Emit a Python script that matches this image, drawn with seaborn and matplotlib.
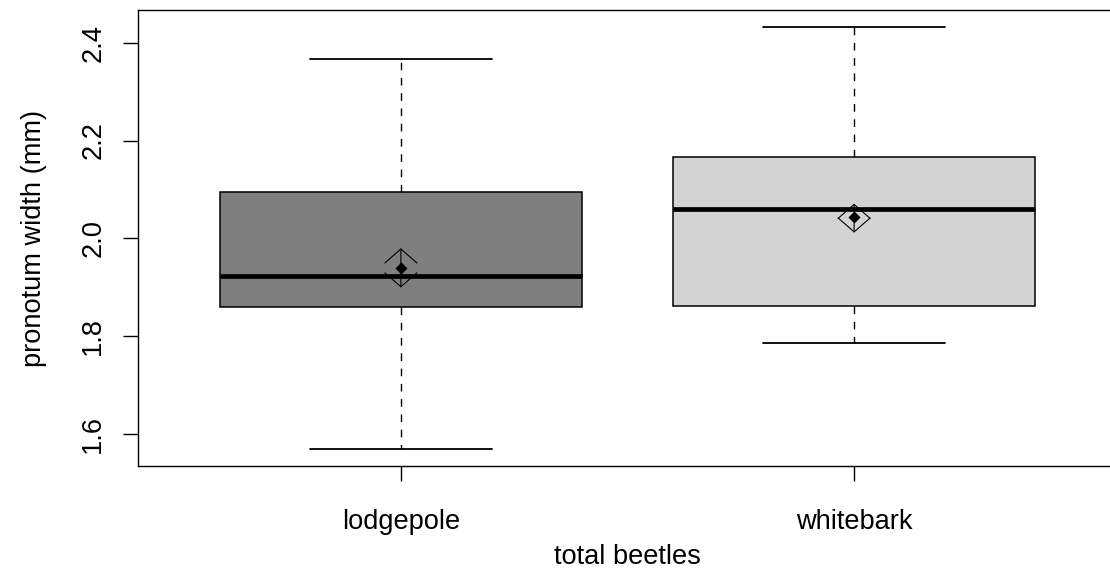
import numpy as np
import pandas as pd
import seaborn as sns
import matplotlib
matplotlib.use("Agg")
import matplotlib.pyplot as plt

# five-number summaries
forests = ["lodgepole", "whitebark"]
whisk_low = [1.570, 1.786]
q1 = [1.860, 1.862]
median = [1.923, 2.061]
q3 = [2.094, 2.167]
whisk_high = [2.367, 2.432]

# mean and error bar ends
means = [1.939, 2.043]
err_low = [1.900, 2.012]
err_high = [1.980, 2.071]

box_colors = ["#7F7F7F", "#D3D3D3"]

rows = []
for i, f in enumerate(forests):
    for v in (whisk_low[i], q1[i], median[i], q3[i], whisk_high[i]):
        rows.append({"forest": f, "width": v})
df = pd.DataFrame(rows)

sns.set_theme(style="white")
plt.rcParams["font.family"] = ["Liberation Sans", "DejaVu Sans"]
plt.rcParams["text.color"] = "black"

fig = plt.figure(figsize=(11.1, 5.73), dpi=100)
ax = fig.add_axes([138 / 1110, 1 - 466 / 573, (1117 - 138) / 1110, (466 - 10) / 573])

sns.boxplot(data=df, x="forest", y="width", hue="forest", palette=box_colors,
            order=forests, hue_order=forests, whis=(0, 100), width=0.8,
            saturation=1, linecolor="black", linewidth=1.1, legend=False,
            medianprops=dict(linewidth=3.4, color="black"),
            whiskerprops=dict(linestyle=(0, (5.5, 5.5)), linewidth=1.0),
            capprops=dict(linewidth=1.3), ax=ax)

pos = np.arange(len(forests))
sns.scatterplot(x=pos, y=means, marker="D", color="black", s=38,
                linewidth=0, zorder=6, ax=ax)
for i in pos:
    for end in (err_high[i], err_low[i]):
        ax.annotate("", xy=(i, end), xytext=(i, means[i]),
                    arrowprops=dict(arrowstyle="->,head_length=1.0,head_width=1.15",
                                    mutation_scale=10, lw=0.8, color="black",
                                    shrinkA=0, shrinkB=0), zorder=6)

lo, hi = min(whisk_low), max(whisk_high)
pad = 0.04 * (hi - lo)
ax.set_ylim(lo - pad, hi + pad)
n = len(forests)
ax.set_xlim(-0.5 - 0.04 * n, n - 0.5 + 0.04 * n)

fs = 19.6
ax.set_yticks([1.6, 1.8, 2.0, 2.2, 2.4])
ax.set_yticklabels(["1.6", "1.8", "2.0", "2.2", "2.4"], fontsize=fs)
for lbl in ax.get_yticklabels():
    lbl.set_rotation(90)
    lbl.set_va("center")
    lbl.set_ha("right")
ax.set_xticks(pos)
ax.set_xticklabels(forests, fontsize=fs)
ax.tick_params(axis="both", direction="out", length=10.8, width=1.0,
               color="black", labelcolor="black", bottom=True, left=True)
ax.tick_params(axis="x", pad=20)
ax.tick_params(axis="y", pad=12)
ax.set_xlabel("total beetles", fontsize=fs, labelpad=7, color="black")
ax.set_ylabel("pronotum width (mm)", fontsize=fs, labelpad=24, color="black")

for s in ax.spines.values():
    s.set_visible(True)
    s.set_color("black")
    s.set_linewidth(1.0)

fig.savefig("out.png", dpi=100)
